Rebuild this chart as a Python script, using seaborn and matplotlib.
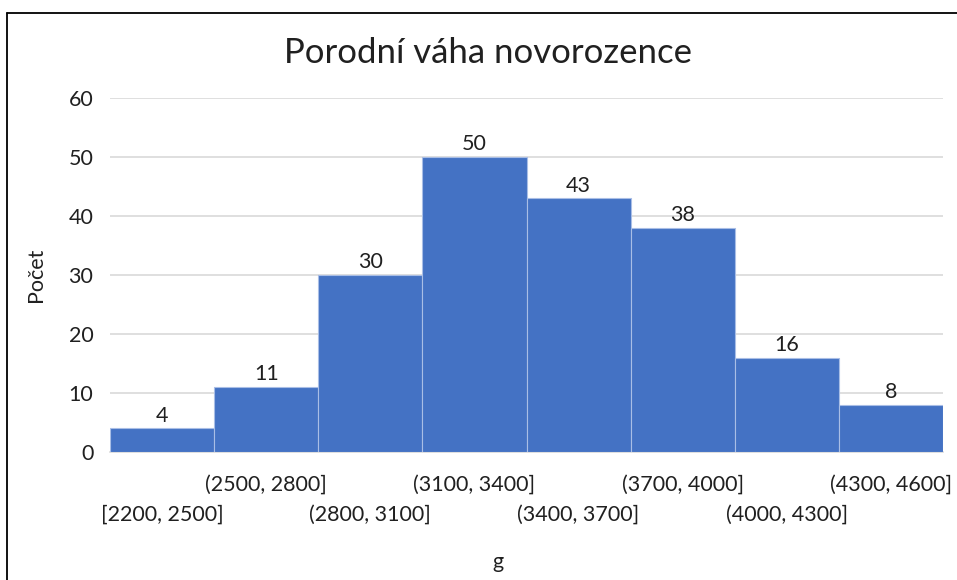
import matplotlib
matplotlib.use('Agg')
import matplotlib.pyplot as plt
import seaborn as sns
import pandas as pd
from matplotlib.lines import Line2D

# Data
intervaly = ['[2200, 2500]', '(2500, 2800]', '(2800, 3100]', '(3100, 3400]',
             '(3400, 3700]', '(3700, 4000]', '(4000, 4300]', '(4300, 4600]']
pocty = [4, 11, 30, 50, 43, 38, 16, 8]

df = pd.DataFrame({'interval': intervaly, 'pocet': pocty})

sns.set_theme(style='white')
plt.rcParams['font.family'] = ['Lato', 'DejaVu Sans']

fig = plt.figure(figsize=(9.57, 5.8), dpi=100)
ax = fig.add_axes([110 / 957, 1 - 452 / 580, (943 - 110) / 957, (452 - 98) / 580])

sns.barplot(data=df, x='interval', y='pocet', color='#4472C4', saturation=1,
            width=1.0, edgecolor='#A9BEE6', linewidth=0.8, ax=ax, zorder=3)

# popisky hodnot
for cont in ax.containers:
    ax.bar_label(cont, labels=[str(v) for v in pocty], padding=2,
                 fontsize=15.5, color='#202020')

ax.set_ylim(0, 60)
ax.set_yticks(range(0, 61, 10))
ax.set_xlim(-0.5, len(pocty) - 0.5)
ax.yaxis.grid(True, color='#D9D9D9', linewidth=1.2, zorder=0)
ax.set_axisbelow(True)
for s in ['top', 'right', 'left']:
    ax.spines[s].set_visible(False)
ax.spines['bottom'].set_color('#D9D9D9')
ax.spines['bottom'].set_linewidth(1.2)

ax.tick_params(axis='both', length=0, labelsize=15.5, labelcolor='#202020')
ax.tick_params(axis='y', pad=12)

ax.set_title('Porodní váha novorozence', fontsize=25, color='#202020',
             x=(488 - 110) / 833, pad=25)
ax.set_xlabel('g', fontsize=15.5, color='#202020')
ax.set_ylabel('Počet', fontsize=15.5, color='#202020', labelpad=16)

# ramecek
fig.add_artist(Line2D([7 / 957, 1], [1 - 13 / 580, 1 - 13 / 580], color='black', lw=1.3))
fig.add_artist(Line2D([7 / 957, 7 / 957], [0, 1 - 13 / 580], color='black', lw=1.3))

# stridave popisky osy x
for i, t in enumerate(ax.xaxis.get_major_ticks()):
    t.set_pad(16 if i % 2 == 1 else 38)

ax.xaxis.set_label_coords((498 - 110) / 833, -(562 - 452) / 354)
ax.xaxis.label.set_va('center')

fig.savefig('out.png', dpi=100)
